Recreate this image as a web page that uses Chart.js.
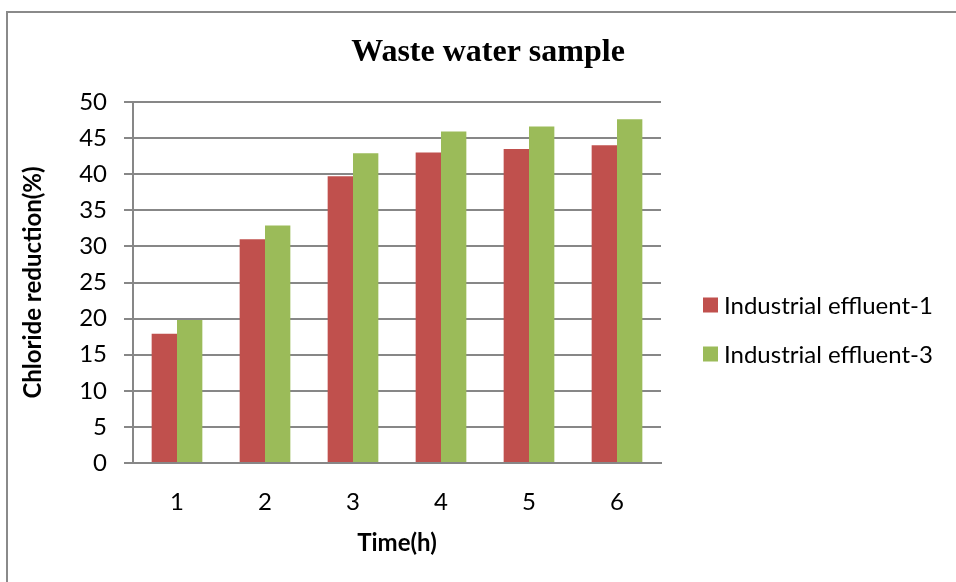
<!DOCTYPE html>
<html>
<head>
<meta charset="utf-8">
<script src="https://cdn.jsdelivr.net/npm/chart.js@4/dist/chart.umd.min.js"></script>
<style>
  html, body { margin: 0; padding: 0; background: #fff; }
  #wrap { width: 956px; height: 582px; }
</style>
</head>
<body>
<div id="wrap"><canvas id="chloride"></canvas></div>
<script>
const timeLabels = ['1', '2', '3', '4', '5', '6'];
const effluent1 = [17.9, 31.0, 39.7, 43.0, 43.5, 44.0];
const effluent3 = [19.8, 32.9, 42.9, 45.9, 46.6, 47.6];
const seriesNames = ['Industrial effluent-1', 'Industrial effluent-3'];
const chartTitle = 'Waste water sample';

const bodyFont = 'Lato, "Open Sans", sans-serif';
const gridGray = '#878787';

// white background plus a thin frame along the top and left edge
const framePlugin = {
    id: 'frame',
    beforeDraw(chart) {
        const ctx = chart.ctx;
        ctx.save();
        ctx.fillStyle = '#fff';
        ctx.fillRect(0, 0, chart.width, chart.height);
        ctx.strokeStyle = '#8a8a8a';
        ctx.lineWidth = 2;
        ctx.beginPath();
        ctx.moveTo(7, chart.height);
        ctx.lineTo(7, 12);
        ctx.lineTo(chart.width, 12);
        ctx.stroke();
        ctx.restore();
    }
};

// title sits centred over plot + legend, so it is drawn here rather than by the title plugin
const headingPlugin = {
    id: 'heading',
    afterDraw(chart) {
        const ctx = chart.ctx;
        ctx.save();
        ctx.font = 'bold 32px "Liberation Serif", "Times New Roman", serif';
        ctx.fillStyle = '#000';
        ctx.textAlign = 'center';
        ctx.textBaseline = 'alphabetic';
        ctx.fillText(chartTitle, 488, 61);
        ctx.restore();
    }
};

// legend drawn beside the plot, items taken from the datasets
const sideLegend = {
    id: 'sideLegend',
    afterDraw(chart) {
        const ctx = chart.ctx;
        const x = chart.chartArea.right + 42;
        ctx.save();
        ctx.font = '24px ' + bodyFont;
        ctx.textBaseline = 'middle';
        chart.data.datasets.forEach((ds, i) => {
            const cy = 305 + i * 49;
            ctx.fillStyle = ds.backgroundColor;
            ctx.fillRect(x, cy - 7.5, 15, 15);
            ctx.fillStyle = '#000';
            ctx.fillText(ds.label, x + 21, cy + 1);
        });
        ctx.restore();
    }
};

const ctx = document.getElementById('chloride').getContext('2d');
new Chart(ctx, {
    type: 'bar',
    data: {
        labels: timeLabels,
        datasets: [{
            label: seriesNames[0],
            data: effluent1,
            backgroundColor: '#C0504D',
            categoryPercentage: 0.576,
            barPercentage: 1
        }, {
            label: seriesNames[1],
            data: effluent3,
            backgroundColor: '#9BBB59',
            categoryPercentage: 0.576,
            barPercentage: 1
        }]
    },
    options: {
        responsive: true,
        maintainAspectRatio: false,
        animation: false,
        layout: { padding: { left: 0, right: 295, top: 102, bottom: 0 } },
        plugins: {
            legend: { display: false },
            tooltip: { enabled: false },
            title: { display: false }
        },
        scales: {
            x: {
                grid: { display: false },
                border: { display: true, color: gridGray, width: 2 },
                ticks: { color: '#000', font: { family: bodyFont, size: 24 }, padding: 17 },
                title: {
                    display: true,
                    text: 'Time(h)',
                    color: '#000',
                    font: { family: bodyFont, size: 24, weight: 'bold' },
                    padding: { top: 0, bottom: 24 }
                },
                afterFit(scale) { scale.height = 119; }
            },
            y: {
                min: 0,
                max: 50,
                ticks: { stepSize: 5, color: '#000', font: { family: bodyFont, size: 24 }, padding: 17 },
                grid: { color: gridGray, lineWidth: 2, tickLength: 9, drawTicks: true },
                border: { display: true, color: gridGray, width: 2 },
                title: {
                    display: true,
                    text: 'Chloride reduction(%)',
                    color: '#000',
                    font: { family: bodyFont, size: 24, weight: 'bold' },
                    padding: { top: 19, bottom: 0 }
                },
                afterFit(scale) { scale.width = 133; }
            }
        }
    },
    plugins: [framePlugin, headingPlugin, sideLegend]
});
</script>
</body>
</html>
